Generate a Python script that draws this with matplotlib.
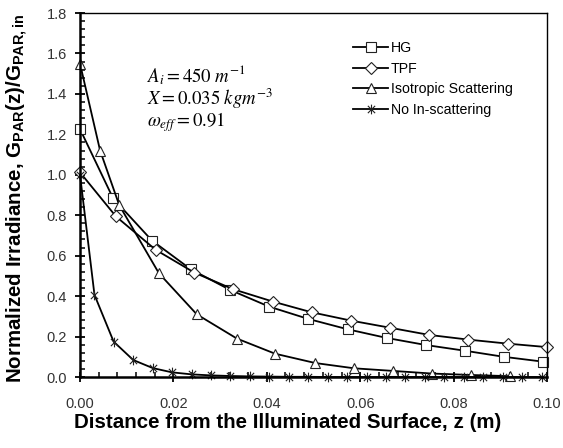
import numpy as np
import matplotlib.pyplot as plt
from matplotlib.path import Path
from matplotlib.ticker import MultipleLocator, FormatStrFormatter

plt.rcParams['font.family'] = ['Liberation Sans', 'DejaVu Sans']
plt.rcParams['mathtext.fontset'] = 'custom'
plt.rcParams['mathtext.rm'] = 'Liberation Sans:bold'
plt.rcParams['mathtext.bf'] = 'Liberation Sans:bold'
plt.rcParams['mathtext.it'] = 'Liberation Sans:bold'

# --- irradiance profiles vs depth ---
z_hg = [0.0, 0.0071, 0.0154, 0.0237, 0.0321, 0.0405, 0.0489, 0.0573, 0.0657, 0.0741, 0.0824, 0.0907, 0.0991]
g_hg = [1.226, 0.883, 0.675, 0.533, 0.431, 0.348, 0.287, 0.236, 0.193, 0.158, 0.130, 0.100, 0.076]

z_tpf = [0.0, 0.0077, 0.0162, 0.0245, 0.0328, 0.0413, 0.0496, 0.0580, 0.0663, 0.0748, 0.0831, 0.0916, 0.0999]
g_tpf = [1.012, 0.794, 0.629, 0.516, 0.434, 0.373, 0.320, 0.279, 0.244, 0.208, 0.185, 0.165, 0.148]

z_iso = [0.0, 0.0043, 0.0084, 0.0169, 0.0250, 0.0336, 0.0418, 0.0504, 0.0587, 0.0671, 0.0754, 0.0837, 0.0921]
g_iso = [1.55, 1.12, 0.85, 0.513, 0.310, 0.190, 0.115, 0.069, 0.043, 0.030, 0.017, 0.010, 0.004]

z_nis = [0.0, 0.0031, 0.0072, 0.0114, 0.0156, 0.0197, 0.0239, 0.0280, 0.0322, 0.0364,
         0.0405, 0.0447, 0.0489, 0.0530, 0.0572, 0.0614, 0.0655, 0.0697, 0.0739, 0.0780,
         0.0822, 0.0864, 0.0905, 0.0947, 0.0989]
g_nis = [1.00, 0.406, 0.175, 0.084, 0.044, 0.023, 0.013, 0.008, 0.005, 0.003,
         0.002, 0.001, 0.001, 0.0, 0.0, 0.0, 0.0, 0.0, 0.0, 0.0,
         0.0, 0.0, 0.0, 0.0, 0.0]

labels = ['HG', 'TPF', 'Isotropic Scattering', 'No In-scattering']

# asterisk marker: vertical bar plus an x
star = Path([(0, -1), (0, 1), (-0.75, -0.75), (0.75, 0.75), (-0.75, 0.75), (0.75, -0.75)],
            [Path.MOVETO, Path.LINETO, Path.MOVETO, Path.LINETO, Path.MOVETO, Path.LINETO])

fig = plt.figure(figsize=(5.63, 4.48), dpi=100)
ax = fig.add_axes([80 / 563, 71 / 448, 467 / 563, 364 / 448])

common = dict(color='black', lw=1.3, mfc='white', mec='#222222', mew=0.8, clip_on=False)
ax.plot(z_hg, g_hg, marker='s', ms=6.8, label=labels[0], **common)
ax.plot(z_tpf, g_tpf, marker='D', ms=5.8, label=labels[1], **common)
ax.plot(z_iso, g_iso, marker='^', ms=7.5, label=labels[2], **common)
ax.plot(z_nis, g_nis, marker=star, ms=7, label=labels[3], **common)

ax.set_xlim(0, 0.1)
ax.set_ylim(0, 1.8)
ax.xaxis.set_major_locator(MultipleLocator(0.02))
ax.xaxis.set_minor_locator(MultipleLocator(0.004))
ax.yaxis.set_major_locator(MultipleLocator(0.2))
ax.yaxis.set_minor_locator(MultipleLocator(0.04))
ax.xaxis.set_major_formatter(FormatStrFormatter('%.2f'))
ax.yaxis.set_major_formatter(FormatStrFormatter('%.1f'))

ax.tick_params(which='major', direction='inout', length=7, width=1.3, labelsize=10.5,
               colors='black')
ax.tick_params(axis='x', which='major', pad=11)
ax.tick_params(axis='y', which='major', pad=6)
ax.tick_params(which='minor', direction='in', length=3.5, width=1.1)
for lab in ax.get_xticklabels() + ax.get_yticklabels():
    lab.set_color('#333333')

for side in ['left', 'bottom']:
    ax.spines[side].set_linewidth(1.8)
for side in ['top', 'right']:
    ax.spines[side].set_linewidth(1.0)

ax.set_xlabel('Distance from the Illuminated Surface, z (m)', fontsize=14.8,
              fontweight='bold', va='center')
ax.xaxis.set_label_coords(0.445, -0.124)
ax.set_ylabel(r'Normalized Irradiance, $\mathbf{G_{PAR}(z)/G_{PAR,in}}$', fontsize=14.8,
              fontweight='bold', va='center')
ax.yaxis.set_label_coords(-0.135, 0.49)

# model parameters
txt = dict(transform=ax.transAxes, fontsize=13.5, math_fontfamily='stix', va='baseline')
ax.text(0.1435, 0.809, r'$A_i = 450\ m^{-1}$', **txt)
ax.text(0.1435, 0.748, r'$X = 0.035\ kgm^{-3}$', **txt)
ax.text(0.1435, 0.690, r'$\omega_{eff} = 0.91$', **txt)

ax.legend(loc='upper left', bbox_to_anchor=(0.5846, 0.922), frameon=False, fontsize=10.2,
          handlelength=2.5, handletextpad=0.15, borderpad=0, borderaxespad=0,
          labelspacing=0.45)

fig.savefig('out.png', dpi=100)
